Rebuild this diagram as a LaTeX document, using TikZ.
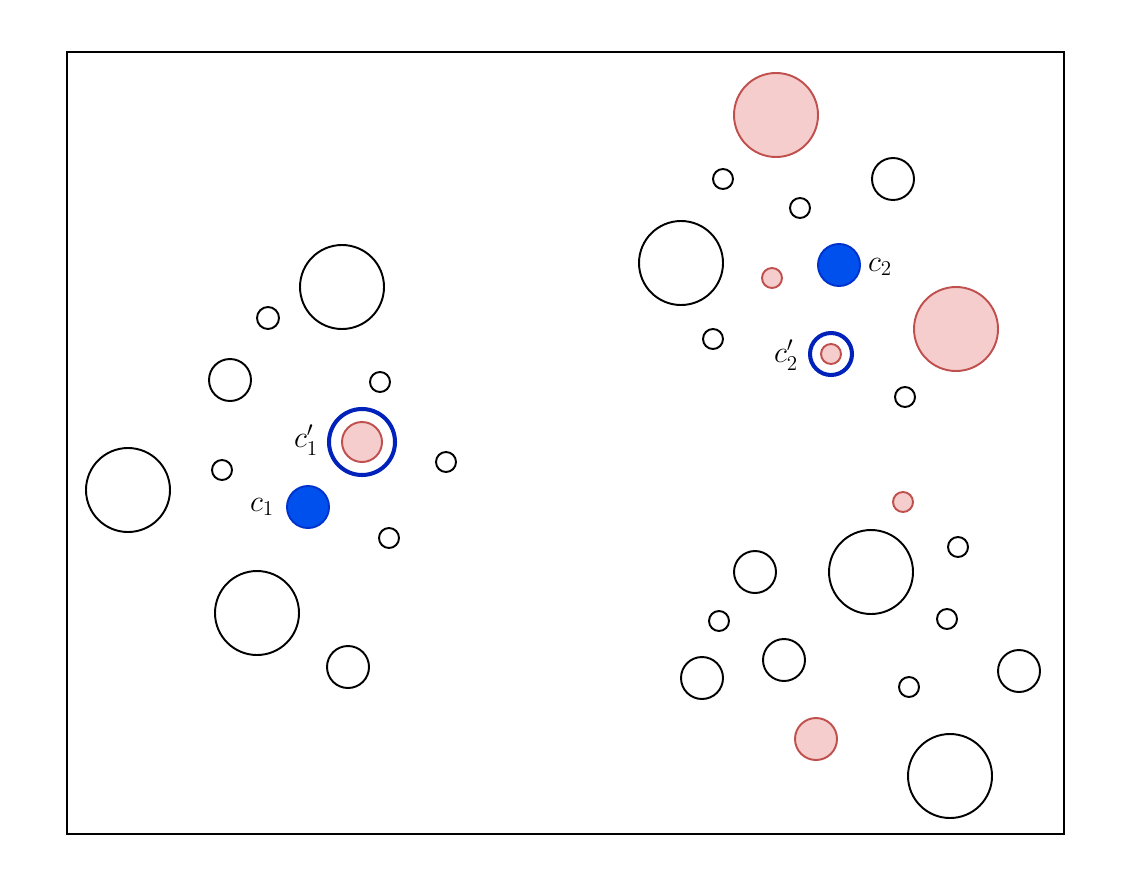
\documentclass[tikz,border=0pt]{standalone}
\usepackage{amsmath}
\usepackage{amssymb}
\usetikzlibrary{positioning}

\definecolor{ptfill}{HTML}{F6CDCD}
\definecolor{ptedge}{HTML}{C0504D}
\definecolor{ctrfill}{HTML}{0050EE}
\definecolor{ctredge}{HTML}{0033CC}
\definecolor{ringblue}{HTML}{0022BB}

\tikzset{
  pt/.style={draw=black, line width=1.1pt},
  red pt/.style={draw=ptedge, fill=ptfill, line width=1.1pt},
  ctr/.style={draw=ctredge, fill=ctrfill, line width=1.1pt},
  ring/.style={draw=ringblue, line width=2.3pt},
  lbl/.style={font=\LARGE, inner sep=0pt}
}

\begin{document}
\begin{tikzpicture}[x=0.02cm, y=-0.02cm]
            \useasboundingbox (0,0) rectangle (1131,892);
            \draw[line width=1.1pt] (67,52) rectangle (1064,834);

            % left cluster
            \draw[pt] (342,287) circle (42);
            \draw[pt] (268,318) circle (11);
            \draw[pt] (230,380) circle (21);
            \draw[pt] (380,382) circle (10);
            \draw[pt] (222,470) circle (10);
            \draw[pt] (446,462) circle (10);
            \draw[pt] (128,490) circle (42);
            \draw[pt] (389,538) circle (10);
            \draw[pt] (257,613) circle (42);
            \draw[pt] (348,667) circle (21);
            \draw[red pt] (362,442) circle (20);
            \draw[ring] (362,442) circle (33);
            \draw[ctr] (308,507) circle (21);
            \node[lbl] (c1p) at (306,440) {$c_1'$};
            \node[lbl] (c1) at (262,507) {$c_1$};

            % top right cluster
            \draw[red pt] (776,115) circle (42);
            \draw[pt] (723,179) circle (10);
            \draw[pt] (893,179) circle (21);
            \draw[pt] (800,208) circle (10);
            \draw[pt] (681,263) circle (42);
            \draw[red pt] (772,278) circle (10);
            \draw[red pt] (956,329) circle (42);
            \draw[pt] (713,339) circle (10);
            \draw[pt] (905,397) circle (10);
            \draw[red pt] (831,354) circle (10);
            \draw[ring] (831,354) circle (21);
            \draw[ctr] (839,265) circle (21);
            \node[lbl] (c2) at (880,267) {$c_2$};
            \node[lbl] (c2p) at (786,355) {$c_2'$};

            % bottom right cluster
            \draw[red pt] (903,502) circle (10);
            \draw[pt] (958,547) circle (10);
            \draw[pt] (755,572) circle (21);
            \draw[pt] (871,572) circle (42);
            \draw[pt] (719,621) circle (10);
            \draw[pt] (947,619) circle (10);
            \draw[pt] (784,660) circle (21);
            \draw[pt] (702,678) circle (21);
            \draw[pt] (1019,671) circle (21);
            \draw[pt] (909,687) circle (10);
            \draw[red pt] (816,739) circle (21);
            \draw[pt] (950,776) circle (42);
\end{tikzpicture}
\end{document}
